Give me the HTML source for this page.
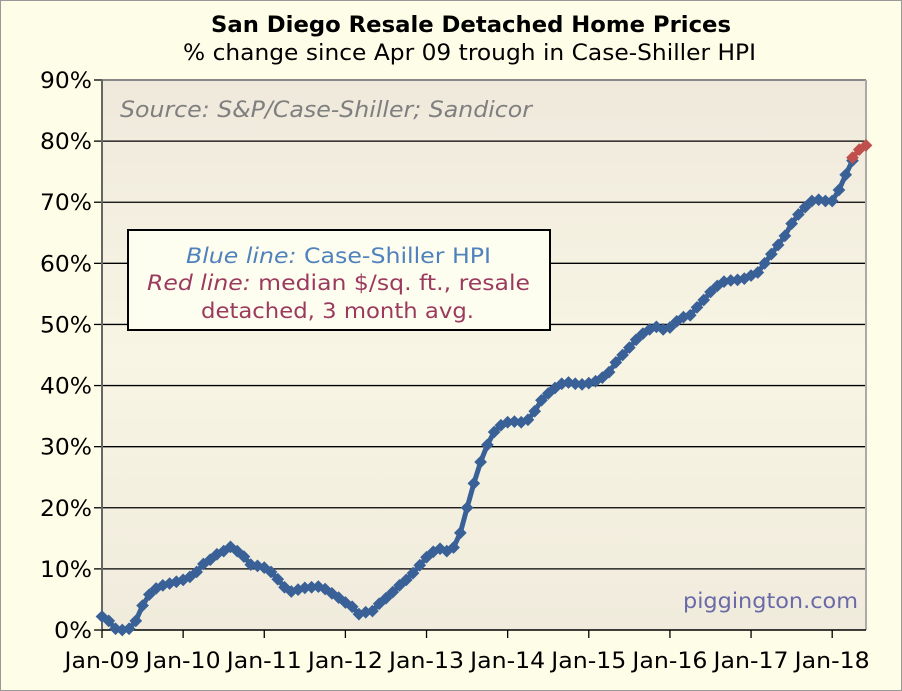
<!DOCTYPE html>
<html><head><meta charset="utf-8"><style>
body{margin:0;background:#fefee8;}
svg{display:block;font-family:"DejaVu Sans","Liberation Sans",sans-serif;}
</style></head><body>
<svg id="s" width="902" height="691" viewBox="0 0 902 691">
<defs><linearGradient id="g" x1="0" y1="0" x2="0" y2="1">
<stop offset="0" stop-color="#efe9dc"/><stop offset="0.5" stop-color="#f8f5e4"/><stop offset="1" stop-color="#f0ebdc"/></linearGradient></defs>
<rect x="0.5" y="0.5" width="901" height="690" fill="#fefee8" stroke="#999"/>
<rect x="102" y="80" width="764" height="550" fill="url(#g)"/>
<g id="grid" stroke="#000" stroke-width="1.3"></g>
<line x1="102" y1="80" x2="866" y2="80" stroke="#888" stroke-width="2"/>
<line x1="866" y1="80" x2="866" y2="630" stroke="#aaa" stroke-width="2"/>
<line x1="102" y1="80" x2="102" y2="630" stroke="#666" stroke-width="2"/>
<line x1="102" y1="630" x2="866" y2="630" stroke="#000" stroke-width="1.5"/>
<text x="211" y="32" font-size="22" font-weight="bold" textLength="520" lengthAdjust="spacingAndGlyphs">San Diego Resale Detached Home Prices</text>
<text x="183" y="60" font-size="22" textLength="573" lengthAdjust="spacingAndGlyphs">% change since Apr 09 trough in Case-Shiller HPI</text>
<text x="120" y="117" font-size="22" font-style="italic" fill="#7f7f7f" textLength="412" lengthAdjust="spacingAndGlyphs">Source: S&amp;P/Case-Shiller; Sandicor</text>
<g id="yl" font-size="22"></g>
<g id="xl" font-size="22"></g>
<rect x="128" y="230" width="422" height="100" fill="#fefef0" stroke="#000" stroke-width="2"/>
<text x="186" y="263" font-size="21" textLength="305" lengthAdjust="spacingAndGlyphs"><tspan fill="#4f81bd" font-style="italic">Blue line:</tspan><tspan fill="#4f81bd"> Case-Shiller HPI</tspan></text>
<text x="147" y="290" font-size="21" fill="#9b3a5e" textLength="383" lengthAdjust="spacingAndGlyphs"><tspan font-style="italic">Red line:</tspan> median $/sq. ft., resale</text>
<text x="201" y="318" font-size="21" fill="#9b3a5e" textLength="273" lengthAdjust="spacingAndGlyphs">detached, 3 month avg.</text>
<text x="683" y="608" font-size="21" fill="#6b6aa8" textLength="175" lengthAdjust="spacingAndGlyphs">piggington.com</text>
<g id="series"></g>
</svg>
<script>
var ns="http://www.w3.org/2000/svg";
function el(t,a,p){var e=document.createElementNS(ns,t);for(var k in a)e.setAttribute(k,a[k]);if(p)p.appendChild(e);return e;}
var Y=function(v){return 630-v*550/90;};
var grid=document.getElementById('grid'),yl=document.getElementById('yl'),xl=document.getElementById('xl');
for(var i=0;i<=9;i++){var y=Y(i*10);if(i>0&&i<9)el('line',{x1:102,y1:y,x2:866,y2:y},grid);
el('line',{x1:94,y1:y,x2:102,y2:y},grid);
var w=i==0?38:52;
var t=el('text',{x:92-w,y:y+8,textLength:w,lengthAdjust:'spacingAndGlyphs'},yl);t.textContent=(i*10)+'%';}
var step=764/113;
for(var j=0;j<10;j++){var x=102+j*12*step;el('line',{x1:x,y1:630,x2:x,y2:638},grid);
var t=el('text',{x:x-37.5,y:668,textLength:75,lengthAdjust:'spacingAndGlyphs'},xl);t.textContent='Jan-'+(j<1?'09':(j+9<10?'0'+(j+9):(j+9)));}
var d=[2.2,1.5,0.2,0,0.2,1.5,4,5.8,6.8,7.3,7.6,7.9,
8.2,8.7,9.5,10.8,11.5,12.4,12.9,13.6,12.9,12,10.7,10.5,
10.2,9.5,8.3,7,6.3,6.6,6.9,7,7.1,6.7,6,5.3,
4.5,3.8,2.6,2.9,3.1,4.3,5.2,6.2,7.3,8.2,9.3,10.6,
11.9,12.8,13.3,12.9,13.5,15.9,20,24,27.5,30.3,32.4,33.5,
34,34.1,34,34.4,35.8,37.6,38.7,39.6,40.3,40.5,40.3,40.2,
40.4,40.7,41.3,42.2,43.8,45,46.2,47.5,48.5,49.2,49.6,49.2,
49.5,50.5,51.2,51.5,52.8,54,55.3,56.3,57,57.2,57.3,57.5,
58,58.5,60,61.5,63,64.5,66.5,68,69.2,70.2,70.4,70.2,
70.2,72,74.5,76.8];
var S=document.getElementById('series');
function draw(arr,start,col){var pts=arr.map(function(v,k){return [102+(start+k)*step,Y(v)];});
el('polyline',{points:pts.map(function(p){return p.join(',')}).join(' '),fill:'none',stroke:col,'stroke-width':5,'stroke-linejoin':'round'},S);
pts.forEach(function(p){el('rect',{x:p[0]-4.5,y:p[1]-4.5,width:9,height:9,fill:col,transform:'rotate(45 '+p[0]+' '+p[1]+')'},S);});}
draw(d,0,'#3a6197');
draw([77.3,78.6,79.3],111,'#c0504d');
</script>
</body></html>
